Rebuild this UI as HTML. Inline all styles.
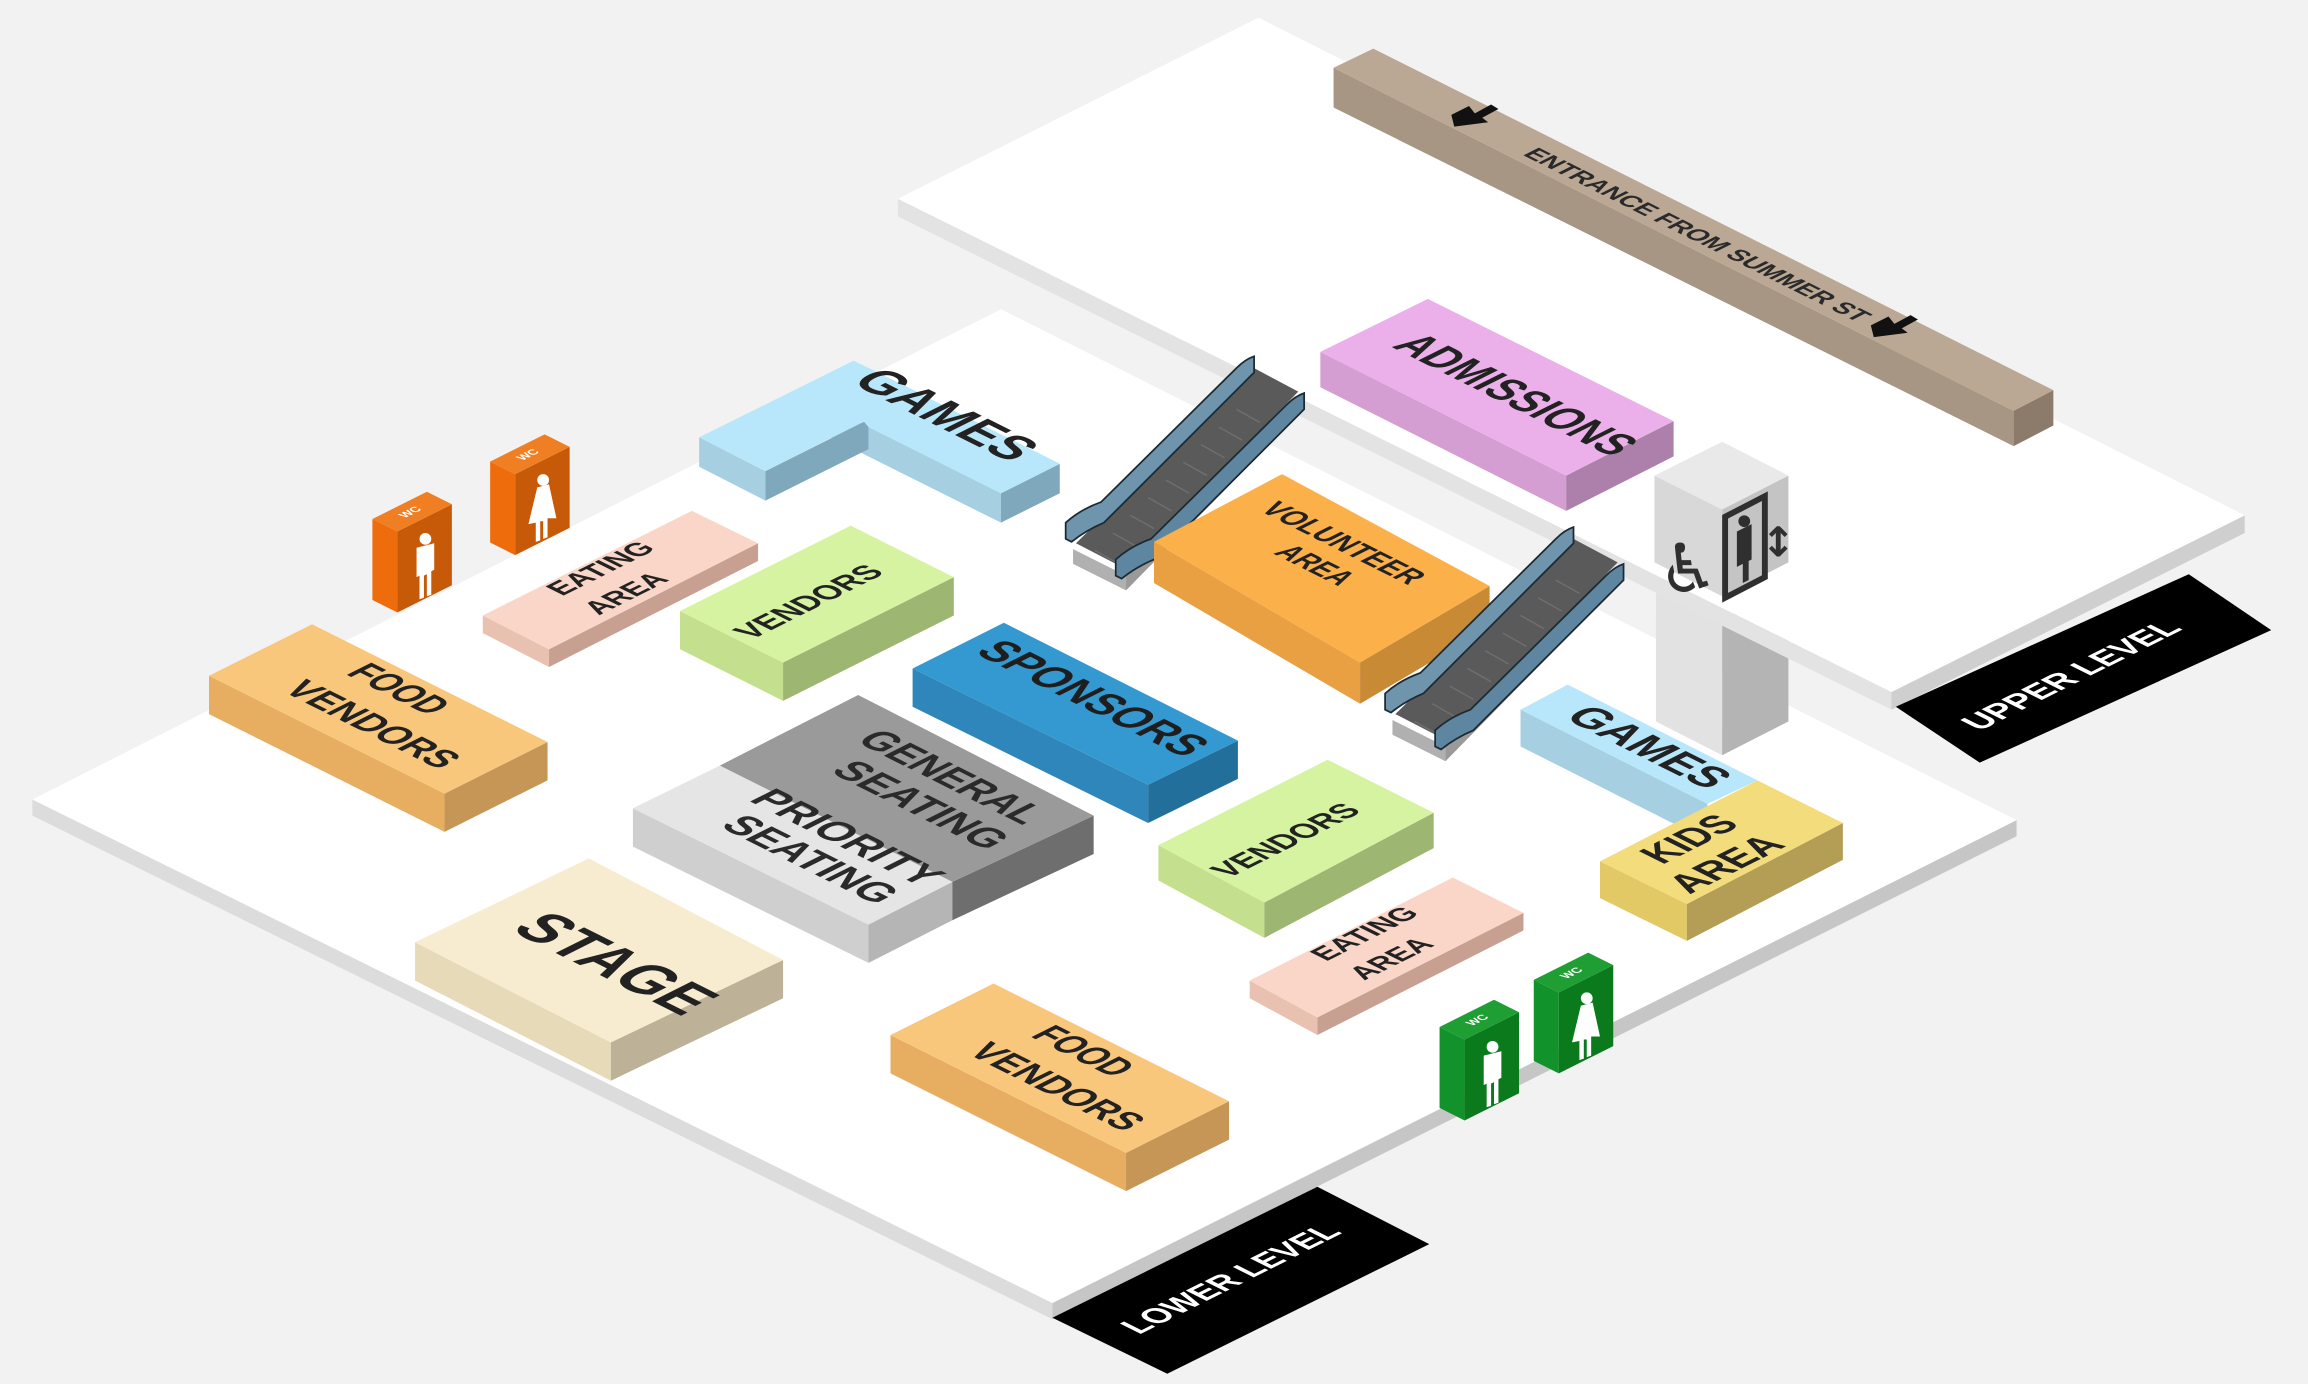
<!DOCTYPE html>
<html><head><meta charset="utf-8">
<style>
html,body{margin:0;padding:0;background:#f2f2f2;}
svg{display:block;}
text{font-family:"Liberation Sans",Arial,sans-serif;font-weight:bold;}
</style></head>
<body>
<svg width="2308" height="1384" viewBox="0 0 1568 940" preserveAspectRatio="none" xmlns="http://www.w3.org/2000/svg">
<rect x="0" y="0" width="1568" height="940" fill="#f2f2f2"/>

<!-- LOWER FLOOR -->
<polygon points="22,543 715,885 715,896 22,554" fill="#dcdcdc"/>
<polygon points="715,885 1370,557 1370,568 715,896" fill="#c6c6c6"/>
<polygon points="22,543 680,210 1370,557 715,885" fill="#ffffff"/>
<polygon points="715,895 895,806 971,845 793,933" fill="#000"/>
<text transform="matrix(0.894,-0.447,0.894,0.447,843,872)" font-size="23" fill="#fff" text-anchor="middle" textLength="155" lengthAdjust="spacingAndGlyphs">LOWER LEVEL</text>

<!-- elevator column -->
<polygon points="1125,400 1170,420 1170,513 1125,490" fill="#e2e2e2"/>
<polygon points="1170,420 1215,398 1215,490 1170,513" fill="#b4b4b4"/>

<!-- UPPER FLOOR -->
<polygon points="610,135 1285,470 1285,482 610,147" fill="#e3e3e3"/>
<polygon points="1285,470 1525,350 1525,362 1285,482" fill="#cfcfcf"/>
<polygon points="610,135 855,12 1525,350 1285,470" fill="#ffffff"/>
<polygon points="1288,480 1487,390 1543,428 1345,518" fill="#000"/>
<text transform="matrix(0.894,-0.447,0.894,0.447,1414,462)" font-size="23" fill="#fff" text-anchor="middle" textLength="155" lengthAdjust="spacingAndGlyphs">UPPER LEVEL</text>

<!-- entrance bar -->
<polygon points="906,46 1368,279 1368,303 906,73" fill="#a89684"/>
<polygon points="1368,279 1395,265 1395,289 1368,303" fill="#8c7b6b"/>
<polygon points="906,46 933,33 1395,265 1368,279" fill="#baa894"/>
<polygon points="986,78 998,72 1002,77 1013,71 1018,74 1007,80 1011,83 988,86" fill="#111"/>
<polygon points="1271,221 1283,215 1287,220 1298,214 1303,217 1292,223 1296,226 1273,229" fill="#111"/>
<text transform="matrix(0.894,0.447,-0.894,0.447,1148,162)" font-size="17" fill="#2a2a2a" text-anchor="middle" textLength="255" lengthAdjust="spacingAndGlyphs">ENTRANCE FROM SUMMER ST</text>

<!-- ADMISSIONS -->
<polygon points="897,239 1064,323 1064,347 897,263" fill="#d49ed2"/>
<polygon points="1064,323 1137,286 1137,310 1064,347" fill="#ad7fab"/>
<polygon points="970,203 1137,286 1064,323 897,239" fill="#ebb0ea"/>
<text transform="matrix(0.894,0.447,-0.894,0.447,1020,273)" font-size="33" fill="#222" text-anchor="middle" textLength="168" lengthAdjust="spacingAndGlyphs">ADMISSIONS</text>

<!-- elevator box -->
<polygon points="1124,323 1170,346 1170,405 1124,382" fill="#d8d8d8"/>
<polygon points="1170,346 1215,323 1215,382 1170,405" fill="#c4c4c4"/>
<polygon points="1170,300 1215,323 1170,346 1124,323" fill="#e9e9e9"/>
<text x="1147" y="402" font-size="46" fill="#2f2f2f" text-anchor="middle" style="font-family:'DejaVu Sans',sans-serif">♿</text>
<polygon points="1172,351 1199,337 1199,392 1172,406" fill="none" stroke="#2f2f2f" stroke-width="4"/>
<circle cx="1185" cy="354" r="4" fill="#2f2f2f"/>
<polygon points="1180,361 1190,356 1190,380 1188,381 1188,394 1184,396 1184,383 1180,385" fill="#2f2f2f"/>
<text x="1208" y="378" font-size="28" fill="#2f2f2f" text-anchor="middle" style="font-family:'DejaVu Sans',sans-serif">↕</text>

<!-- GAMES left (L shape) -->
<polygon points="540,265 680,335 680,355 540,285" fill="#a6cfe2"/>
<polygon points="680,335 720,315 720,335 680,355" fill="#80a8bc"/>
<polygon points="580,245 720,315 680,335 540,265" fill="#b8e7fb"/>
<polygon points="475,297 520,320 520,340 475,317" fill="#a6cfe2"/>
<polygon points="520,320 590,285 590,305 520,340" fill="#80a8bc"/>
<polygon points="580,245 625,267 520,320 475,297" fill="#b8e7fb"/>
<polygon points="580,245 720,315 680,335 590,290 560,255" fill="#b8e7fb"/>
<text transform="matrix(0.894,0.447,-0.894,0.447,632,287)" font-size="36" fill="#222" text-anchor="middle" textLength="122" lengthAdjust="spacingAndGlyphs">GAMES</text>

<!-- WC orange women -->
<polygon points="333,313.5 350,322 350,377 333,368.5" fill="#ee6c0c"/>
<polygon points="350,322 387,303.5 387,358.5 350,377" fill="#c65a08"/>
<polygon points="370,295 387,303.5 350,322 333,313.5" fill="#f07e22"/>
<text transform="matrix(0.894,-0.447,0.894,0.447,361,310)" font-size="8" fill="#fff" text-anchor="middle">WC</text>
<circle cx="369" cy="326" r="4" fill="#fff"/>
<polygon points="365,331 373,329 378,352 372,352 372,365 369,366 369,354 367,354 367,367 364,368 364,355 359,356" fill="#fff"/>
<!-- WC orange men -->
<polygon points="253,352.5 270,361 270,416 253,407.5" fill="#ee6c0c"/>
<polygon points="270,361 307,342.5 307,397.5 270,416" fill="#c65a08"/>
<polygon points="290,334 307,342.5 270,361 253,352.5" fill="#f07e22"/>
<text transform="matrix(0.894,-0.447,0.894,0.447,281,349)" font-size="8" fill="#fff" text-anchor="middle">WC</text>
<circle cx="289" cy="366" r="4" fill="#fff"/>
<polygon points="283,372 295,369 295,387 293,388 293,404 290,405 290,390 288,391 288,406 285,407 285,391 283,392" fill="#fff"/>

<!-- EATING AREA left -->
<polygon points="328,418 373,441 373,453 328,430" fill="#e9c1b0"/>
<polygon points="373,441 515,369 515,381 373,453" fill="#c7a092"/>
<polygon points="470,347 515,369 373,441 328,418" fill="#f9d6c7"/>
<text transform="matrix(0.894,-0.447,0.894,0.447,414,389)" font-size="20" fill="#222" text-anchor="middle" textLength="72" lengthAdjust="spacingAndGlyphs">EATING</text>
<text transform="matrix(0.894,-0.447,0.894,0.447,431,406)" font-size="20" fill="#222" text-anchor="middle" textLength="54" lengthAdjust="spacingAndGlyphs">AREA</text>

<!-- VENDORS green left -->
<polygon points="462,415 532,450 532,476 462,441" fill="#c4e08f"/>
<polygon points="532,450 648,392 648,418 532,476" fill="#9db772"/>
<polygon points="578,357 648,392 532,450 462,415" fill="#d6f3a2"/>
<text transform="matrix(0.894,-0.447,0.894,0.447,556,412)" font-size="22" fill="#222" text-anchor="middle" textLength="102" lengthAdjust="spacingAndGlyphs">VENDORS</text>

<!-- FOOD VENDORS left -->
<polygon points="142,459 302,539 302,565 142,485" fill="#e7ae62"/>
<polygon points="302,539 372,504 372,530 302,565" fill="#c59656"/>
<polygon points="212,424 372,504 302,539 142,459" fill="#f9c77c"/>
<text transform="matrix(0.894,0.447,-0.894,0.447,263,472)" font-size="27" fill="#222" text-anchor="middle" textLength="64" lengthAdjust="spacingAndGlyphs">FOOD</text>
<text transform="matrix(0.894,0.447,-0.894,0.447,245,496)" font-size="27" fill="#222" text-anchor="middle" textLength="120" lengthAdjust="spacingAndGlyphs">VENDORS</text>

<!-- ESCALATOR 1 -->
<g id="esc">
<polygon points="729,373 765,391 765,401 729,383" fill="#b0b0b0"/>
<polygon points="765,391 886,268 886,278 765,401" fill="#9a9a9a"/>
<polygon points="731,369 764,386 882,266 852,250" fill="#5a5a5a"/>
<g stroke="#6e6e6e" stroke-width="1">
<line x1="744" y1="374" x2="760" y2="383"/><line x1="756" y1="362" x2="772" y2="371"/>
<line x1="768" y1="350" x2="784" y2="359"/><line x1="780" y1="338" x2="796" y2="347"/>
<line x1="792" y1="326" x2="808" y2="335"/><line x1="804" y1="314" x2="820" y2="323"/>
<line x1="816" y1="302" x2="832" y2="311"/><line x1="828" y1="290" x2="844" y2="299"/>
<line x1="840" y1="278" x2="856" y2="287"/>
</g>
<path d="M724,366 L724,355 Q734,346 748,341 L840,250 Q846,244 852,242 L852,253 L750,355 Q738,360 728,368 Z" fill="#6f95ad" stroke="#1c2a33" stroke-width="1.2"/>
<path d="M758,391 L758,380 Q768,371 782,366 L874,275 Q880,269 886,267 L886,278 L784,380 Q772,385 762,393 Z" fill="#5f86a0" stroke="#1c2a33" stroke-width="1.2"/>
</g>

<!-- VOLUNTEER AREA -->
<polygon points="784,368 924,450 924,478 784,396" fill="#e9a042"/>
<polygon points="924,450 1012,398 1012,426 924,478" fill="#c98a35"/>
<polygon points="871,322 1012,398 924,450 784,368" fill="#fbb04a"/>
<text transform="matrix(0.894,0.447,-0.894,0.447,906,372)" font-size="22" fill="#222" text-anchor="middle" textLength="114" lengthAdjust="spacingAndGlyphs">VOLUNTEER</text>
<text transform="matrix(0.894,0.447,-0.894,0.447,887,387)" font-size="22" fill="#222" text-anchor="middle" textLength="50" lengthAdjust="spacingAndGlyphs">AREA</text>

<!-- ESCALATOR 2 -->
<use href="#esc" transform="translate(217,116)"/>

<!-- SPONSORS -->
<polygon points="620,454 780,533 780,559 620,480" fill="#2e86bb"/>
<polygon points="780,533 841,503 841,529 780,559" fill="#236f9c"/>
<polygon points="682,423 841,503 780,533 620,454" fill="#3399d0"/>
<text transform="matrix(0.894,0.447,-0.894,0.447,733,479)" font-size="32" fill="#1e1e1e" text-anchor="middle" textLength="160" lengthAdjust="spacingAndGlyphs">SPONSORS</text>

<!-- SEATING -->
<polygon points="430,549 590,628 590,654 430,575" fill="#cfcfcf"/>
<polygon points="590,628 647,599 647,625 590,654" fill="#b5b5b5"/>
<polygon points="647,599 743,554 743,580 647,625" fill="#6e6e6e"/>
<polygon points="583,472 743,554 647,599 489,520" fill="#9a9a9a"/>
<polygon points="489,520 647,599 590,628 430,549" fill="#e5e5e5"/>
<text transform="matrix(0.894,0.447,-0.894,0.447,638,532)" font-size="29" fill="#2a2a2a" text-anchor="middle" textLength="128" lengthAdjust="spacingAndGlyphs">GENERAL</text>
<text transform="matrix(0.894,0.447,-0.894,0.447,617,551)" font-size="29" fill="#2a2a2a" text-anchor="middle" textLength="120" lengthAdjust="spacingAndGlyphs">SEATING</text>
<text transform="matrix(0.894,0.447,-0.894,0.447,567,573)" font-size="29" fill="#2a2a2a" text-anchor="middle" textLength="132" lengthAdjust="spacingAndGlyphs">PRIORITY</text>
<text transform="matrix(0.894,0.447,-0.894,0.447,542,588)" font-size="29" fill="#2a2a2a" text-anchor="middle" textLength="120" lengthAdjust="spacingAndGlyphs">SEATING</text>

<!-- GAMES right -->
<polygon points="1033,482 1160,546 1160,571 1033,507" fill="#a6cfe2"/>
<polygon points="1065,465 1194,530 1160,546 1033,482" fill="#b8e7fb"/>
<text transform="matrix(0.894,0.447,-0.894,0.447,1111,512)" font-size="31" fill="#222" text-anchor="middle" textLength="110" lengthAdjust="spacingAndGlyphs">GAMES</text>

<!-- KIDS AREA -->
<polygon points="1087,585 1146,614 1146,639 1087,610" fill="#e3c866"/>
<polygon points="1146,614 1252,559 1252,584 1146,639" fill="#b49e55"/>
<polygon points="1194,530 1252,559 1146,614 1087,585" fill="#f3dc7c"/>
<text transform="matrix(0.894,-0.447,0.894,0.447,1156,574)" font-size="28" fill="#222" text-anchor="middle" textLength="60" lengthAdjust="spacingAndGlyphs">KIDS</text>
<text transform="matrix(0.894,-0.447,0.894,0.447,1181,591)" font-size="28" fill="#222" text-anchor="middle" textLength="74" lengthAdjust="spacingAndGlyphs">AREA</text>

<!-- VENDORS right -->
<polygon points="787,574 859,613 859,637 787,598" fill="#c4e08f"/>
<polygon points="859,613 974,552 974,576 859,637" fill="#9db772"/>
<polygon points="902,516 974,552 859,613 787,574" fill="#d6f3a2"/>
<text transform="matrix(0.894,-0.447,0.894,0.447,880,574)" font-size="22" fill="#222" text-anchor="middle" textLength="102" lengthAdjust="spacingAndGlyphs">VENDORS</text>

<!-- EATING AREA right -->
<polygon points="849,666 895,691 895,703 849,678" fill="#e9c1b0"/>
<polygon points="895,691 1035,620 1035,632 895,703" fill="#c7a092"/>
<polygon points="987,596 1035,620 895,691 849,666" fill="#f9d6c7"/>
<text transform="matrix(0.894,-0.447,0.894,0.447,933,637)" font-size="20" fill="#222" text-anchor="middle" textLength="72" lengthAdjust="spacingAndGlyphs">EATING</text>
<text transform="matrix(0.894,-0.447,0.894,0.447,951,654)" font-size="20" fill="#222" text-anchor="middle" textLength="54" lengthAdjust="spacingAndGlyphs">AREA</text>

<!-- STAGE -->
<polygon points="282,640 415,708 415,734 282,666" fill="#e6dab9"/>
<polygon points="415,708 532,652 532,678 415,734" fill="#bdb297"/>
<polygon points="400,583 532,652 415,708 282,640" fill="#f8ecd0"/>
<text transform="matrix(0.894,0.447,-0.894,0.447,405,661)" font-size="44" fill="#222" text-anchor="middle" textLength="132" lengthAdjust="spacingAndGlyphs">STAGE</text>

<!-- WC green women -->
<polygon points="1042,665.5 1059,674 1059,729 1042,720.5" fill="#12922a"/>
<polygon points="1059,674 1096,655.5 1096,710.5 1059,729" fill="#0a7a1c"/>
<polygon points="1079,647 1096,655.5 1059,674 1042,665.5" fill="#1f9e34"/>
<text transform="matrix(0.894,-0.447,0.894,0.447,1070,662)" font-size="8" fill="#fff" text-anchor="middle">WC</text>
<circle cx="1078" cy="678" r="4" fill="#fff"/>
<polygon points="1074,683 1082,681 1087,704 1081,704 1081,717 1078,718 1078,706 1076,706 1076,719 1073,720 1073,707 1068,708" fill="#fff"/>
<!-- WC green men -->
<polygon points="978,697.5 995,706 995,761 978,752.5" fill="#12922a"/>
<polygon points="995,706 1032,687.5 1032,742.5 995,761" fill="#0a7a1c"/>
<polygon points="1015,679 1032,687.5 995,706 978,697.5" fill="#1f9e34"/>
<text transform="matrix(0.894,-0.447,0.894,0.447,1006,694)" font-size="8" fill="#fff" text-anchor="middle">WC</text>
<circle cx="1014" cy="711" r="4" fill="#fff"/>
<polygon points="1008,717 1020,714 1020,732 1018,733 1018,749 1015,750 1015,735 1013,736 1013,751 1010,752 1010,736 1008,737" fill="#fff"/>

<!-- FOOD VENDORS bottom -->
<polygon points="605,703 765,783 765,809 605,729" fill="#e7ae62"/>
<polygon points="765,783 835,748 835,774 765,809" fill="#c59656"/>
<polygon points="675,668 835,748 765,783 605,703" fill="#f9c77c"/>
<text transform="matrix(0.894,0.447,-0.894,0.447,728,718)" font-size="27" fill="#222" text-anchor="middle" textLength="64" lengthAdjust="spacingAndGlyphs">FOOD</text>
<text transform="matrix(0.894,0.447,-0.894,0.447,710,742)" font-size="27" fill="#222" text-anchor="middle" textLength="120" lengthAdjust="spacingAndGlyphs">VENDORS</text>
</svg>
</body></html>
